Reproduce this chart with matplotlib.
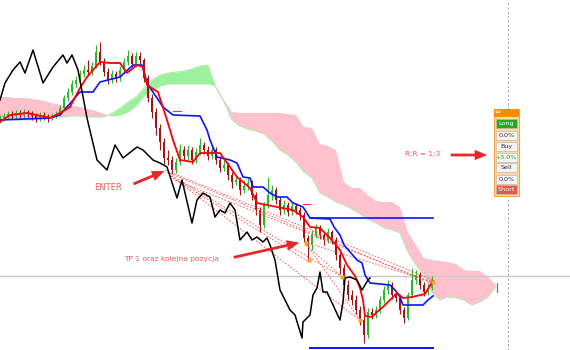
import matplotlib
matplotlib.use('Agg')
import matplotlib.pyplot as plt
from matplotlib.patches import Rectangle
import numpy as np

# candles: bar index 0..108, prices in chart units
opens = [230, 232, 234, 236, 234, 237, 235, 238, 236, 234, 232, 235, 233, 232, 234, 236, 242, 252, 258, 266,
         270, 276, 280, 278, 284, 298, 288, 278, 270, 276, 272, 280, 288, 294, 286, 294, 290, 272, 252, 238,
         222, 208, 192, 190, 180, 188, 200, 194, 200, 190, 198, 205, 200, 194, 200, 190, 182, 185, 175, 168,
         170, 160, 164, 167, 155, 140, 125, 145, 155, 160, 150, 140, 145, 138, 144, 140, 135, 112, 105, 115,
         122, 115, 110, 118, 110, 95, 82, 65, 55, 50, 40, 30, 15, 38, 35, 40, 50, 60, 65, 55,
         52, 40, 32, 55, 70, 75, 65, 58, 62]
closes = [232, 234, 236, 234, 237, 235, 238, 236, 234, 232, 235, 233, 232, 234, 236, 242, 252, 258, 266, 270,
          276, 280, 278, 284, 298, 288, 278, 270, 276, 272, 280, 288, 294, 286, 294, 290, 272, 252, 238, 222,
          208, 192, 190, 180, 188, 200, 194, 200, 190, 198, 205, 200, 194, 200, 190, 182, 185, 175, 168, 170,
          160, 164, 167, 155, 140, 125, 145, 155, 160, 150, 140, 145, 138, 144, 140, 135, 112, 105, 115, 122,
          115, 110, 118, 110, 95, 82, 65, 55, 50, 40, 30, 15, 38, 35, 40, 50, 60, 65, 55, 52,
          40, 32, 55, 70, 75, 65, 58, 62, 70]
highs = [235, 237, 239, 239, 240, 240, 241, 240, 239, 237, 238, 238, 236, 237, 239, 245, 255, 262, 270, 274,
         280, 285, 290, 288, 305, 308, 292, 282, 280, 279, 284, 292, 300, 297, 298, 298, 292, 275, 256, 242,
         226, 212, 200, 194, 192, 206, 204, 205, 203, 202, 212, 208, 204, 205, 203, 194, 190, 188, 178, 174,
         173, 170, 172, 170, 158, 143, 148, 173, 165, 163, 153, 150, 148, 148, 147, 143, 138, 115, 120, 126,
         125, 118, 122, 120, 113, 98, 86, 70, 60, 55, 44, 34, 42, 42, 44, 54, 64, 70, 68, 58,
         55, 43, 58, 82, 80, 78, 68, 66, 74]
lows = [227, 229, 231, 231, 231, 232, 232, 233, 230, 228, 229, 230, 228, 230, 232, 234, 240, 249, 255, 263,
        266, 273, 274, 275, 282, 285, 274, 266, 267, 268, 269, 277, 285, 283, 283, 286, 268, 248, 232, 215,
        200, 186, 185, 176, 177, 185, 190, 190, 186, 187, 195, 196, 190, 191, 186, 178, 179, 170, 162, 165,
        155, 157, 160, 150, 135, 118, 122, 142, 150, 146, 135, 136, 134, 135, 136, 130, 108, 90, 100, 112,
        111, 105, 107, 106, 90, 76, 60, 50, 45, 36, 25, 7, 12, 31, 32, 37, 47, 56, 51, 48,
        36, 27, 30, 52, 66, 61, 54, 55, 60]

# ichimoku lines (bar index, price)
tenkan_x = [0, 2.5, 6.75, 12.5, 15, 17.5, 20, 21.75, 25, 27.5, 30, 31.75, 34.25, 35.75, 36.75, 39.5, 41.75,
            43.25, 45, 48.25, 50, 55, 57.5, 59.25, 60.75, 62.5, 64.25, 66.75, 69.25, 73.25, 75.75, 77.5, 80,
            82.5, 85, 86.75, 88.75, 90, 90.75, 91.25, 93, 94.25, 95.75, 97.5, 99.25, 100.75, 103, 106.25,
            107.25, 108.25]
tenkan = [228, 235, 237, 232, 237, 243, 262, 273, 288, 287, 287, 277, 285, 283, 265, 258, 230, 210, 190, 188,
          197, 197, 183, 173, 168, 162, 147, 145, 143, 140, 133, 123, 122, 112, 100, 85, 74, 62, 50, 34,
          33, 38, 43, 50, 57, 52, 53, 56, 63, 69]
kijun_x = [0, 12.5, 15, 20, 23.25, 25, 30, 33.25, 35.5, 36.75, 40.75, 43.25, 50, 51.75, 52.5, 54.25, 57.5,
           59.25, 60.75, 62.5, 63.25, 65.75, 67.5, 69.25, 71.75, 73.25, 75.75, 77.5, 82.5, 83.5, 85, 86,
           89.25, 90.5, 91.25, 92.5, 97.5, 98.75, 100, 100.75, 105.75, 107, 108.25]
kijun = [230, 232, 235, 258, 258, 268, 273, 285, 285, 267, 243, 235, 234, 220, 210, 193, 190, 187, 173, 172,
         163, 163, 157, 153, 153, 147, 143, 132, 131, 123, 115, 105, 90, 87, 75, 67, 65, 60, 53, 45,
         45, 50, 54]
chikou_x = [0, 1.25, 3.25, 5, 6.25, 8.25, 10, 10.75, 13.25, 15.75, 16.75, 18, 19.5, 21.75, 24.25, 26.75,
            28.75, 30.75, 34.25, 35.75, 38.25, 40, 41.75, 44.25, 45.5, 48, 49.25, 50.75, 52.5, 53.75, 55,
            56.25, 57.5, 58.75, 60, 61.75, 63, 64.25, 65.75, 66.75, 67.5, 68.75, 70, 72.5, 73.75, 75.5,
            75.75, 77.5, 78.25, 79.25, 80, 80.75, 81.75, 83.25, 85, 85.75, 86.25, 87.5, 89.25, 90.5, 92, 92.5]
chikou = [250, 267, 280, 288, 277, 300, 277, 267, 283, 295, 287, 295, 280, 232, 190, 180, 205, 192, 203, 200,
          190, 187, 183, 152, 170, 127, 150, 157, 153, 133, 140, 137, 147, 140, 110, 118, 110, 113, 108, 112,
          105, 90, 60, 40, 35, 12, 28, 35, 55, 62, 78, 58, 58, 45, 30, 48, 72, 73, 70, 60, 70, 72]

# cloud, one value every 2 bars from bar 0 to bar 124
span_a = [232, 231, 230, 230, 230, 231, 232, 233, 233, 234, 234, 233, 233, 233, 237, 242, 248, 253, 262, 270,
          275, 277, 278, 279, 281, 284, 285, 262, 248, 230, 224, 221, 219, 216, 209, 200, 195, 188, 178, 172,
          157, 153, 148, 145, 141, 136, 131, 127, 122, 120, 117, 98, 85, 75, 57, 50, 53, 52, 50, 45,
          48, 53, 63]
span_b = [253, 253, 252, 252, 251, 250, 248, 246, 244, 244, 243, 241, 239, 236, 234, 235, 238, 244, 254, 260,
          264, 266, 266, 266, 266, 266, 266, 264, 250, 238, 237, 237, 237, 237, 237, 237, 236, 235, 223, 222,
          206, 204, 200, 168, 162, 162, 155, 149, 148, 148, 143, 118, 105, 92, 90, 89, 88, 86, 80, 79,
          79, 73, 65]

# trade plan lines
fan_x0 = [41.25, 41.75, 42.25, 42.75, 43.25, 43.75, 76.25, 76.25, 76.5]
fan_y0 = [180, 178, 176, 174, 172, 170, 108, 108, 105]
fan_x1 = [108.25, 106.25, 85.5, 90, 77.25, 108.25, 108.25, 90, 85.5]
fan_y1 = [70, 69, 73, 30, 88, 67, 68, 30, 73]
tp_x = [76.5, 77.25, 85.5, 90, 108.25]
tp_y = [107, 90, 73, 30, 68]
range_top, range_bottom = 132, 2
range_x = [77.5, 108.25]
last_price = 74

labels = ['ENTER', 'TP 1 oraz kolejna pozycja', 'R:R = 1:3']
btn_labels = ['Long', '0.0%', 'Buy', '+3.0%', 'Sell', '0.0%', 'Short']

W, H = 570, 350
UP, DOWN = '#2fb52f', '#a31515'
ARROW = '#e8262a'
LABEL = '#f25c5c'

fig = plt.figure(figsize=(W / 100, H / 100), dpi=100)
ax = fig.add_axes([0, 0, 1, 1])
ax.set_xlim(0, W / 4)
ax.set_ylim(0, H)
ax.axis('off')

# cloud
cx = np.arange(0, 125, 2)
a = np.array(span_a)
b = np.array(span_b)
ax.fill_between(cx, a, b, where=a >= b, interpolate=True, color='#9cf29c', lw=0, zorder=1)
ax.fill_between(cx, a, b, where=a < b, interpolate=True, color='#ffc2cc', lw=0, zorder=1)
ax.plot(cx, a, color='#b9e8b2', lw=0.8, zorder=1.5)
ax.plot([124.2, 124.2], [58, 67], color='#707070', lw=0.8)

ax.axhline(last_price, color='#c8c8c8', lw=1, zorder=2)
ax.axvline(127, color='#9a9a9a', lw=0.7, ls=(0, (2, 2.5)), zorder=2)

# candles
for i in range(len(opens)):
    col = UP if closes[i] >= opens[i] else DOWN
    ax.vlines(i, lows[i], highs[i], color=col, lw=0.8, zorder=3)
    h = closes[i] - opens[i]
    if abs(h) < 1.5:
        h = 1.5
    ax.bar(i, h, bottom=opens[i], width=0.7, color=col, lw=0, zorder=3)

# fan of dashed lines
for x0, y0, x1, y1 in zip(fan_x0, fan_y0, fan_x1, fan_y1):
    ax.plot([x0, x1], [y0, y1], color='#ff4a4a', lw=0.6, ls=(0, (2, 2)), zorder=4)
ax.plot([43.25, 45.25], [239, 239], color='#ff3030', lw=0.8, zorder=4)
ax.plot([75.75, 77.5], [146, 146], color='#ff3030', lw=0.8, zorder=4)

ax.plot(kijun_x, kijun, color='#0a14ff', lw=1.2, zorder=5)
ax.plot(tenkan_x, tenkan, color='#ff0000', lw=1.3, zorder=5)
ax.plot(chikou_x, chikou, color='#000000', lw=1.1, zorder=5)
ax.plot(range_x, [range_top, range_top], color='#0a14ff', lw=1.2, zorder=5)
ax.plot(range_x, [range_bottom, range_bottom], color='#0a14ff', lw=1.4, zorder=5)
ax.plot(tp_x, tp_y, 's', ms=2.2, color='#f5a623', mec='none', zorder=6)

# annotations
arrow = dict(arrowstyle='simple,head_length=0.9,head_width=0.75,tail_width=0.2', color=ARROW, lw=0)
ax.annotate('', xy=(41.75, 180), xytext=(32.75, 165), arrowprops=arrow, zorder=7)
ax.annotate('', xy=(75.5, 108), xytext=(57.75, 92), arrowprops=arrow, zorder=7)
ax.annotate('', xy=(122.5, 195), xytext=(112, 195), arrowprops=arrow, zorder=7)
ax.text(27, 163, labels[0], ha='center', va='center', color=LABEL, fontsize=6, zorder=7)
ax.text(42.75, 91, labels[1], ha='center', va='center', color=LABEL, fontsize=5.4, zorder=7)
ax.text(105.75, 196, labels[2], ha='center', va='center', color=LABEL, fontsize=5.3, zorder=7)


# trade panel (drawn in figure pixels)
def px_box(x0, y0, x1, y1, **kw):
    r = Rectangle((x0 / W, 1 - y1 / H), (x1 - x0) / W, (y1 - y0) / H,
                  transform=fig.transFigure, **kw)
    fig.add_artist(r)


def px_text(x, y, s, **kw):
    fig.text(x / W, 1 - y / H, s, ha='center', va='center', **kw)


px_box(494, 109, 519, 196, fc='#fcd9aa', ec='#f6a545', lw=0.8)
px_box(494, 109, 519, 117, fc='#ff8c00', ec='none')
px_text(498, 113, '⇔', color='white', fontsize=5)
tops = [119, 131, 142, 153, 163, 175, 185]
faces = ['#26a826', '#f3f3f3', '#f3f3f3', '#f3f3f3', '#f3f3f3', '#f3f3f3', '#e0594f']
tcols = ['white', '#333333', '#333333', '#2a9d2a', '#333333', '#333333', 'white']
for lab, t, fc, tc in zip(btn_labels, tops, faces, tcols):
    px_box(496, t, 517, t + 9, fc=fc, ec='#c9b9a0', lw=0.5)
    px_text(506.5, t + 4.7, lab, color=tc, fontsize=4.6)

fig.savefig('out.png', dpi=100)
